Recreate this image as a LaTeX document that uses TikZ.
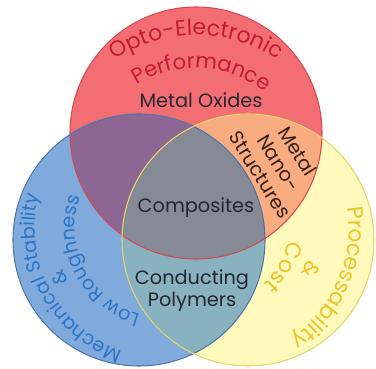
\documentclass[tikz,border=0pt]{standalone}
\usepackage{fontspec}
\setmainfont{Poppins}
\usetikzlibrary{decorations.text,calc}

\definecolor{redfill}{RGB}{243,110,114}
\definecolor{bluefill}{RGB}{128,170,220}
\definecolor{yellowfill}{RGB}{255,249,188}
\definecolor{redblue}{RGB}{142,102,148}
\definecolor{redyellow}{RGB}{248,172,128}
\definecolor{blueyellow}{RGB}{136,178,192}
\definecolor{allthree}{RGB}{134,138,150}
\definecolor{redline}{RGB}{214,72,84}
\definecolor{blueline}{RGB}{78,118,168}
\definecolor{yellowline}{RGB}{232,212,110}
\definecolor{redtext}{RGB}{196,28,52}
\definecolor{bluetext}{RGB}{42,118,200}
\definecolor{yellowtext}{RGB}{236,196,40}
\definecolor{darktext}{RGB}{38,38,48}

\tikzset{
  areatext/.style={text=darktext, font=\fontsize{11}{12.5}\selectfont, align=center},
  arctext/.style n args={3}{decorate, decoration={text along path, text align=center,
      text color=#1, text={|\fontsize{#2}{#2}\selectfont|#3}}}
}

\begin{document}
\begin{tikzpicture}[x=0.02cm,y=0.02cm]
  \useasboundingbox (0,0) rectangle (376,369);
  \coordinate (R) at (196,236);
  \coordinate (B) at (139,129);
  \coordinate (Y) at (248,129);
  \fill[redfill] (R) circle (126);
  \fill[bluefill] (B) circle (126);
  \fill[yellowfill] (Y) circle (126);
  \begin{scope}
    \clip (R) circle (126);
    \fill[redblue] (B) circle (126);
    \fill[redyellow] (Y) circle (126);
  \end{scope}
  \begin{scope}
    \clip (B) circle (126);
    \fill[blueyellow] (Y) circle (126);
    \clip (R) circle (126);
    \fill[allthree] (Y) circle (126);
  \end{scope}
  \draw[redline, line width=0.6pt] (R) circle (126);
  \draw[blueline, line width=0.6pt] (B) circle (126);
  \draw[yellowline, line width=0.6pt] (Y) circle (126);

  \path[arctext={redtext}{12.5}{Opto-Electronic}] (196,189) ++(140:145) arc[start angle=140, end angle=40, radius=145];
  \path[arctext={redtext}{12}{Performance}] (196,189) ++(137:112) arc[start angle=137, end angle=37, radius=112];

  \path[arctext={bluetext}{11}{Mechanical Stability}] (165,141) ++(263:130) arc[start angle=263, end angle=153, radius=130];
  \path[arctext={bluetext}{11}{Low Roughness}] (165,141) ++(262:90) arc[start angle=262, end angle=152, radius=90];
  \node[text=bluetext, font=\fontsize{11}{11}\selectfont, rotate=115.5] (ba) at ($(165,141)+(205.5:117)$) {\&};

  \path[arctext={yellowtext}{12.5}{Processability}] (215,141) ++(30:134) arc[start angle=30, end angle=-77, radius=134];
  \path[arctext={yellowtext}{12.5}{Cost}] (215,141) ++(10:74) arc[start angle=10, end angle=-69, radius=74];
  \node[text=yellowtext, font=\fontsize{12}{12}\selectfont, rotate=-113.5] (ya) at ($(215,141)+(-23.5:105)$) {\&};

  \node[areatext] (mo) at (201,269) {Metal Oxides};
  \node[areatext] (cp) at (196,161) {Composites};
  \node[areatext] (cn) at (192,78) {Conducting\\Polymers};
  \node[areatext, text={rgb,255:red,52;green,30;blue,24}, rotate=-58] (mn) at (279,206) {Metal\\Nano-\\Structures};
\end{tikzpicture}
\end{document}
